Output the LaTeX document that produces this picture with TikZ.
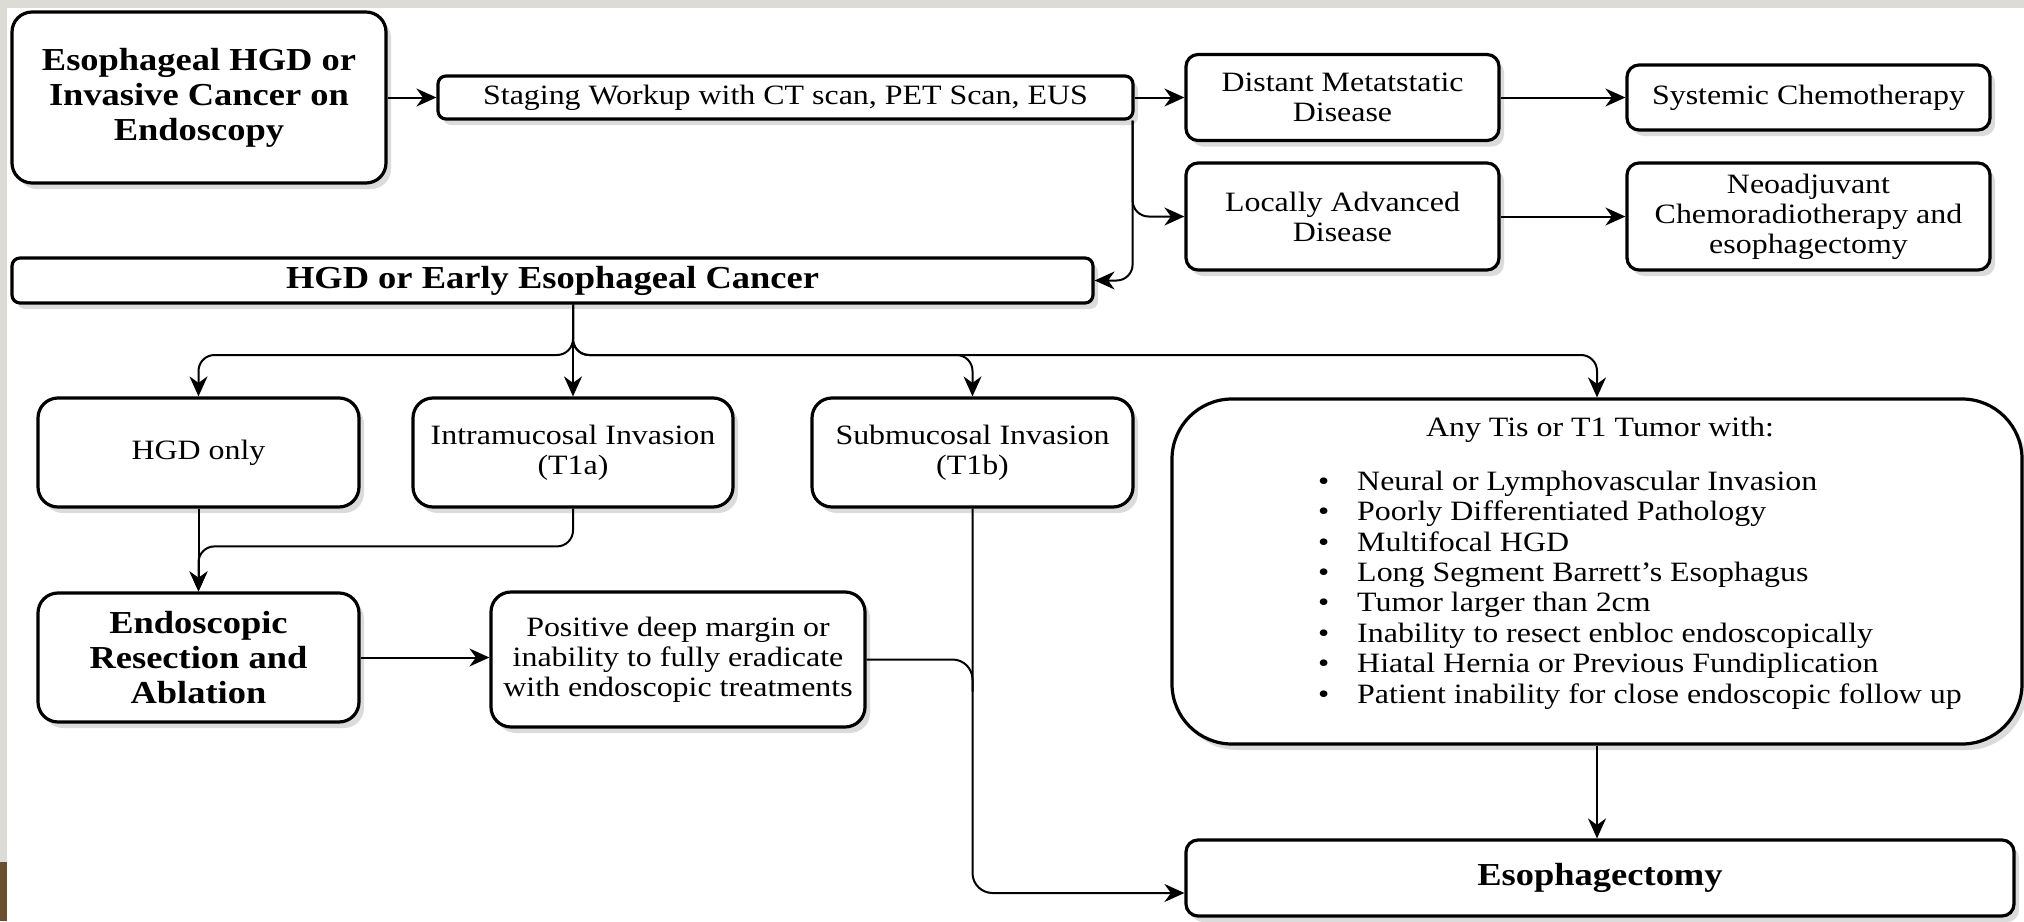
\documentclass[tikz,border=0pt]{standalone}
\usepackage{fontspec}
\setmainfont{Liberation Serif}[FakeStretch=1.14]
\usetikzlibrary{arrows.meta,shadows}

\definecolor{framegray}{RGB}{221,219,214}
\definecolor{deskbrown}{RGB}{105,78,48}

\tikzset{
  box/.style={draw, line width=1.6pt, rounded corners=6pt, fill=white, align=center,
    inner sep=0pt, font=\fontsize{14}{15}\selectfont,
    drop shadow={shadow xshift=2.5pt, shadow yshift=-3pt, fill=black!28}},
  bold/.style={font=\fontsize{16}{17.5}\selectfont\bfseries},
  arr/.style={-{Stealth[length=10pt,width=9pt]}, line width=1pt},
  line/.style={line width=1pt},
}

\begin{document}
\begin{tikzpicture}[x=0.5pt,y=-0.5pt]
\useasboundingbox (0,0) rectangle (2024,921);
% backdrop
\fill[framegray] (0,0) rectangle (2024,921);
\fill[white] (7,8) rectangle (2024,921);
\fill[deskbrown] (0,862) rectangle (7,921);

% staging row
\node[box, bold, rounded corners=10pt, minimum width=187pt, minimum height=85.5pt] (start) at (199,97.5) {Esophageal HGD or\\Invasive Cancer on\\Endoscopy};
\node[box, rounded corners=4pt, minimum width=347.5pt, minimum height=21.5pt] (staging) at (785.5,97.5) {Staging Workup with CT scan, PET Scan, EUS};
\node[box, minimum width=156.5pt, minimum height=43pt] (distant) at (1342.5,97.5) {Distant Metatstatic\\Disease};
\node[box, minimum width=156.5pt, minimum height=53.5pt] (locally) at (1342.5,216.5) {Locally Advanced\\Disease};
\node[box, minimum width=181.5pt, minimum height=32.5pt] (systemic) at (1808.5,97.5) {Systemic Chemotherapy};
\node[box, minimum width=181.5pt, minimum height=53.5pt] (neo) at (1808.5,216.5) {Neoadjuvant\\Chemoradiotherapy and\\esophagectomy};
\node[box, bold, rounded corners=4pt, minimum width=540.5pt, minimum height=22.5pt] (early) at (552.5,280.5) {HGD or Early Esophageal Cancer};

% depth of invasion
\node[box, rounded corners=10pt, minimum width=160.5pt, minimum height=54.5pt] (hgdonly) at (198.5,452.5) {HGD only};
\node[box, rounded corners=10pt, minimum width=160pt, minimum height=54.5pt] (intra) at (573,452.5) {Intramucosal Invasion\\(T1a)};
\node[box, rounded corners=10pt, minimum width=160.5pt, minimum height=54.5pt] (sub) at (972.5,452.5) {Submucosal Invasion\\(T1b)};
\node[box, rounded corners=30pt, minimum width=425pt, minimum height=172.5pt] (tis) at (1597,571.5) {};
\node[font=\fontsize{14}{15}\selectfont] (tishead) at (1600,430) {Any Tis or T1 Tumor with:};
\node[anchor=west, align=left, font=\fontsize{14}{15.2}\selectfont] (tislist) at (1311,590) {%
\textbullet\hspace{14pt}Neural or Lymphovascular Invasion\\
\textbullet\hspace{14pt}Poorly Differentiated Pathology\\
\textbullet\hspace{14pt}Multifocal HGD\\
\textbullet\hspace{14pt}Long Segment Barrett's Esophagus\\
\textbullet\hspace{14pt}Tumor larger than 2cm\\
\textbullet\hspace{14pt}Inability to resect enbloc endoscopically\\
\textbullet\hspace{14pt}Hiatal Hernia or Previous Fundiplication\\
\textbullet\hspace{14pt}Patient inability for close endoscopic follow up};

% treatment
\node[box, bold, rounded corners=10pt, minimum width=160.5pt, minimum height=64.5pt] (endo) at (198.5,657.5) {Endoscopic\\Resection and\\Ablation};
\node[box, rounded corners=10pt, minimum width=187pt, minimum height=67.5pt] (positive) at (678,659.5) {Positive deep margin or\\inability to fully eradicate\\with endoscopic treatments};
\node[box, bold, minimum width=414pt, minimum height=38pt] (esoph) at (1600,878) {Esophagectomy};

% connectors
\coordinate (split) at (573,355);
\draw[arr] (start) -- (staging);
\draw[arr] (staging) -- (distant);
\draw[arr, rounded corners=8pt] ([xshift=-1pt]staging.south east) |- (locally.west);
\draw[arr, rounded corners=8pt] ([xshift=-1pt]staging.south east) |- (early.east);
\draw[arr] (distant) -- (systemic);
\draw[arr] (locally) -- (neo);
\draw[arr] (early.south -| split) -- (intra.north);
\draw[arr, rounded corners=8pt] (early.south -| split) -- (split) -| (hgdonly.north);
\draw[arr, rounded corners=8pt] (early.south -| split) -- (split) -| (sub.north);
\draw[arr, rounded corners=8pt] (early.south -| split) -- (split) -| (tis.north);
\draw[arr] (hgdonly) -- (endo);
\draw[arr, rounded corners=8pt] (intra.south) |- ([yshift=22.5pt]endo.north) -- (endo.north);
\draw[arr] (endo) -- (endo -| positive.west);
\draw[line, rounded corners=10pt] (positive.east) -| ([yshift=-16pt]positive.east -| sub.south);
\draw[arr, rounded corners=10pt] (sub.south) |- ([yshift=-7.5pt]esoph.west);
\draw[arr] (tis.south) -- (tis.south |- esoph.north);
\end{tikzpicture}
\end{document}
